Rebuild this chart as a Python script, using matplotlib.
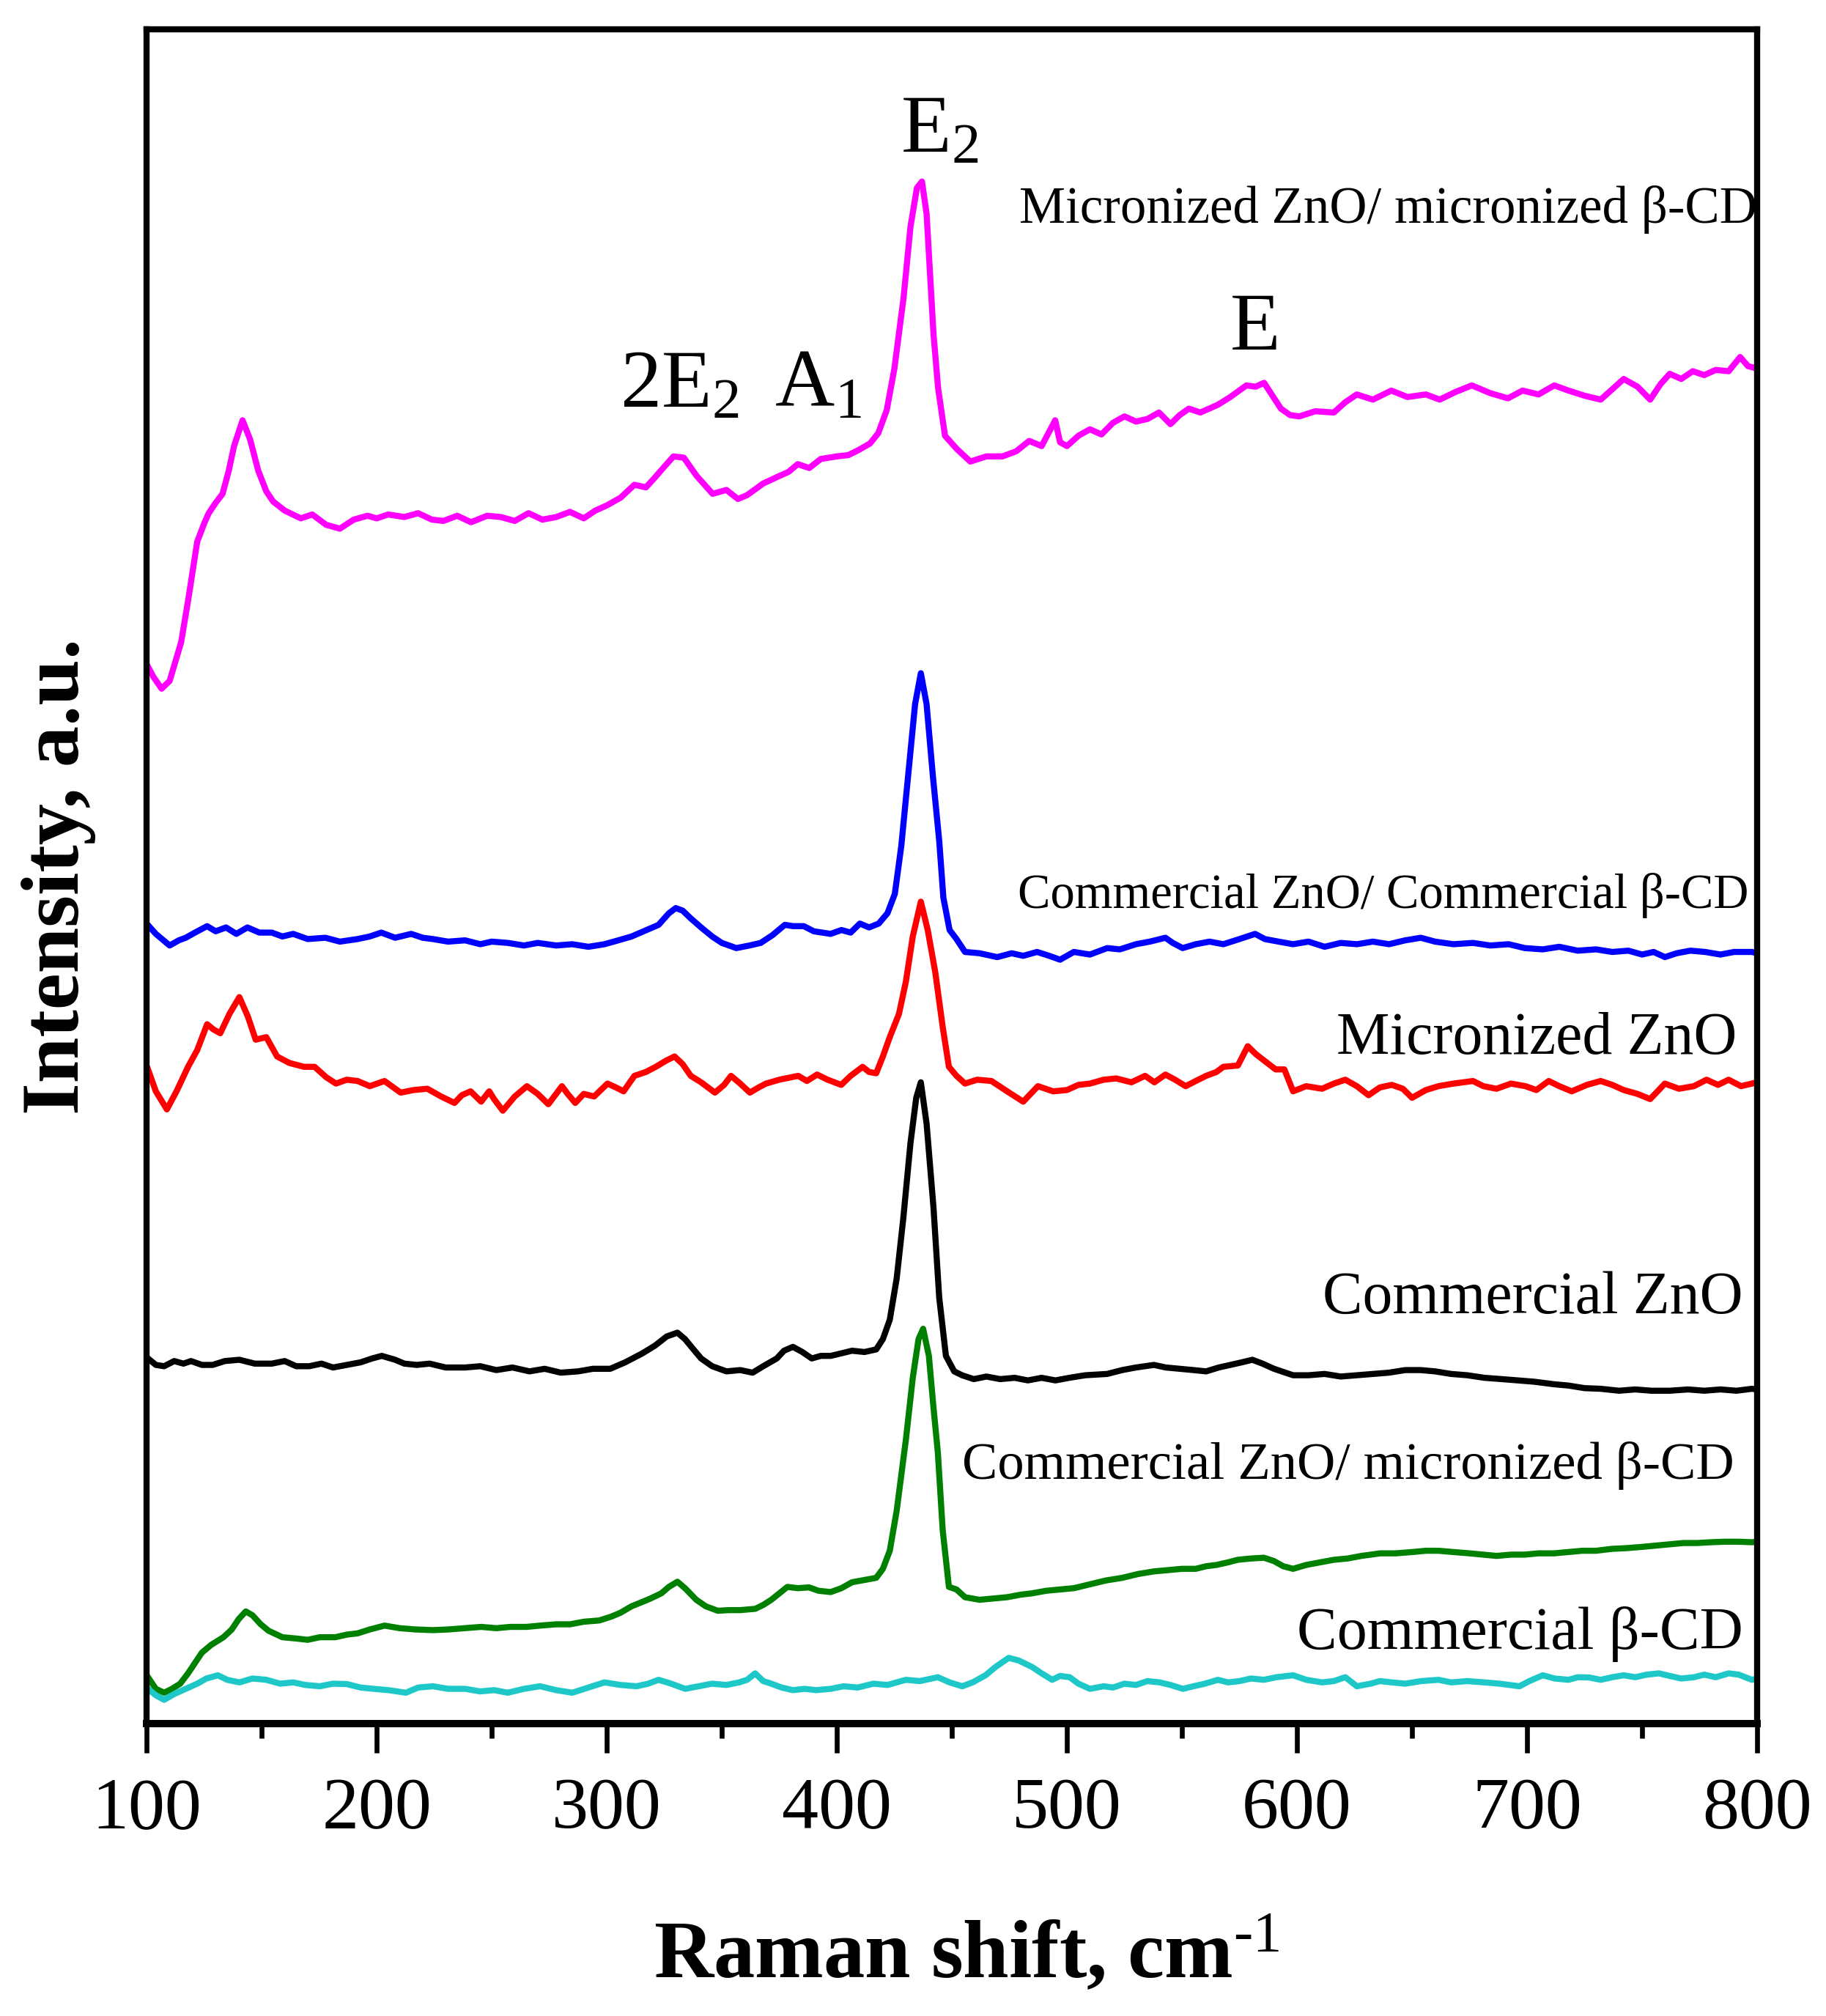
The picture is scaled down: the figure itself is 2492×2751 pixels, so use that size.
import matplotlib
matplotlib.use("Agg")
import matplotlib.pyplot as plt
from matplotlib.ticker import MultipleLocator

plt.rcParams['font.family'] = ['Liberation Serif', 'DejaVu Serif']
plt.rcParams['mathtext.fontset'] = 'custom'
plt.rcParams['mathtext.rm'] = 'Liberation Serif'
plt.rcParams['mathtext.it'] = 'Liberation Serif:italic'
plt.rcParams['mathtext.bf'] = 'Liberation Serif:bold'

# Micronized ZnO / micronized beta-CD (magenta)
x_mz_mcd = [100, 103, 106.5, 110, 115, 118, 122, 125, 127, 130, 133, 135.7, 138, 141.7, 145, 148.5, 152, 155,
            160, 167, 172, 178, 184, 190, 196, 200, 205, 212, 218, 224, 229, 235, 241, 248, 254, 260, 266, 272,
            278, 284, 290, 295, 300, 306, 312, 317, 320.6, 325, 329, 333.5, 339, 346, 352, 357, 361, 368, 374,
            379, 383, 388, 393, 400, 405, 409.5, 414.4, 418, 421.7, 425, 429, 432, 434.8, 437, 439, 442, 444,
            447, 452, 458, 465, 472, 478, 483.6, 489, 494.9, 497, 500, 505, 510, 515, 520, 525, 530, 535, 540,
            545, 549, 553, 558, 565.6, 571, 578, 582, 585.7, 589, 593, 597, 601, 608, 616, 621, 626, 633, 641,
            648, 656, 662, 669, 676, 684, 691.7, 698, 705, 711.8, 718, 725, 732, 737, 742, 748, 753.5, 758,
            762, 767, 772, 777, 782, 787.6, 792.6, 796, 800]
y_mz_mcd = [821, 811, 802, 808, 838, 870, 916, 930, 938, 946, 953, 971, 990, 1010, 995, 971, 955, 947,
            940, 934, 937, 929, 926, 933, 936, 934, 937, 935, 938, 933, 932, 936, 931, 936, 935, 932, 938, 933,
            935, 939, 934, 940, 944, 950, 960, 958, 965, 974, 982, 981, 967, 953, 956, 949, 952, 961, 966,
            970, 976, 973, 980, 982, 983, 987, 992, 1000, 1018, 1050, 1105, 1160, 1190, 1195, 1170, 1077, 1035,
            998, 988, 978, 982, 982, 986, 994, 990, 1010, 993, 990, 998, 1003, 999, 1008, 1013, 1009, 1011, 1016,
            1007, 1014, 1019, 1016, 1022, 1028, 1037, 1036, 1039, 1030, 1019, 1014, 1013, 1017, 1016, 1024, 1030, 1026, 1033,
            1028, 1030, 1026, 1032, 1037, 1031, 1027, 1033, 1030, 1037, 1033, 1029, 1026, 1034, 1042, 1036, 1026, 1038,
            1046, 1042, 1048, 1045, 1049, 1048, 1059, 1052, 1050]

# Commercial ZnO / commercial beta-CD (blue)
x_cz_ccd = [100, 104, 110, 114, 117, 121, 126.3, 130, 134.5, 139, 143.8, 149, 154.4, 159, 163.7, 170, 177.7,
            184, 191.7, 197, 202, 208, 215, 220, 224.4, 231, 238.4, 245, 250, 257, 264, 270, 278, 285, 292,
            299, 305, 310.8, 316, 322.5, 327, 330, 333, 336.5, 341, 345.8, 350, 356.3, 362, 366.9, 372, 377.4,
            381, 385.6, 390, 397.3, 402, 406, 410, 414, 418.2, 422, 425.2, 428, 431, 434, 436.5, 439, 441.7,
            444.5, 446.3, 449, 452, 455.7, 462, 469.7, 476, 481, 487, 492.3, 497, 503, 510, 517.5, 523, 530,
            536, 542.8, 546, 550.3, 556, 562, 568, 575, 581.8, 586, 592, 598.3, 605, 612, 619, 626, 633, 640,
            647, 653.8, 660, 668, 676.5, 684, 692, 699, 706.8, 714, 722, 730, 737, 744, 750, 755, 759.9, 765,
            771, 777.4, 784, 790, 797.7, 800]
y_cz_ccd = [620, 612, 603, 607, 609, 613, 618, 614, 617, 612, 617, 613, 613, 610, 612, 608, 609,
            606, 608, 610, 613, 609, 612, 609, 608, 606, 607, 604, 606, 605, 603, 605, 603, 604, 602,
            604, 607, 610, 614, 619, 628, 632, 630, 624, 617, 610, 605, 601, 603, 605, 611, 619,
            618, 618, 614, 612, 615, 613, 620, 617, 620, 628, 643, 680, 735, 790, 814, 790, 735,
            684, 640, 615, 608, 598, 597, 594, 597, 595, 598, 595, 592, 598, 596, 601, 600, 604,
            606, 609, 605, 601, 604, 606, 604, 608, 612, 608, 606, 604, 606, 602, 605, 604, 606, 604,
            607, 609, 606, 604, 605, 603, 604, 601, 600, 602, 599, 600, 598, 599, 596, 598, 594, 597,
            599, 598, 596, 598, 598, 597]

# Micronized ZnO (red)
x_mz = [100.6, 104, 108.8, 113, 118, 122, 126.3, 129, 132, 136, 140.3, 144, 147.4, 152, 156.7, 162, 168.4,
        173, 178, 182.3, 187, 191.7, 197, 203.4, 210.4, 216, 222, 228, 233.8, 237, 240.8, 245.4, 248.9, 251,
        254.8, 260, 265.3, 270, 274.6, 280.5, 283, 286.3, 290, 294.5, 300.3, 304, 307.3, 312, 317, 321.3,
        326, 329.5, 333, 336.5, 341, 347, 351, 354, 358, 362.2, 366, 369.2, 375, 383.2, 387, 391.4, 396,
        401.9, 406, 411.2, 414, 417.1, 420, 423, 427, 430, 433, 436.5, 439.5, 442.8, 446, 448.7, 452, 455.7,
        461, 467.2, 474, 481, 487.4, 494, 500, 505, 510, 516, 521.4, 528, 534, 538, 542.8, 547, 551.6, 556,
        560.5, 565, 568, 574.3, 578.6, 582, 585.6, 590.7, 594.5, 598.3, 604, 610.9, 616, 621, 626, 631.1,
        636, 641.2, 646, 650, 656, 661.5, 668, 676.5, 681, 686.7, 693, 699.3, 704, 709.4, 714, 719.4, 726,
        732, 737, 742, 748, 753.5, 759.9, 766, 772.5, 778, 783, 787.6, 793, 797.7, 800]
y_mz = [507, 490, 476, 490, 509, 522, 542, 538, 535, 550, 563, 548, 530, 532, 517, 512, 509,
        509, 501, 496, 499, 498, 494, 498, 489, 491, 492, 486, 481, 487, 490, 482, 490, 484,
        475, 486, 494, 488, 480, 494, 488, 481, 488, 486, 496, 493, 490, 502, 505, 509,
        514, 517, 511, 502, 497, 489, 495, 502, 496, 489, 493, 496, 499, 502, 498, 503, 499,
        495, 502, 509, 505, 504, 517, 532, 550, 575, 610, 637, 615, 582, 540, 509, 502, 496,
        499, 498, 490, 482, 494, 490, 491, 495, 496, 499, 500, 497, 502, 497, 503, 499, 494, 498,
        502, 505, 509, 510, 525, 519, 514, 507, 507, 490, 494, 492, 496, 499, 494, 487,
        493, 495, 492, 485, 491, 494, 496, 498, 494, 492, 496, 494, 491, 498, 494, 490, 495,
        498, 495, 491, 488, 484, 496, 492, 494, 499, 495, 499, 494, 496, 497]

# Commercial ZnO (black)
x_cz = [100.6, 104, 107.6, 112, 116, 119.3, 124, 128.7, 134, 140.3, 147, 154.4, 160, 165, 170.7, 176, 181,
        187, 193, 198, 202.2, 208, 212, 217.4, 223, 230, 238.4, 245, 252, 259, 266.4, 273, 280, 287.5, 294,
        301.5, 308, 315.5, 321, 326, 330.7, 334, 337.7, 341, 345.8, 352, 358, 363.4, 368, 373.9, 377, 380.9,
        385, 389.1, 393, 397.3, 402, 406.6, 412, 417.1, 420, 423, 426, 428.9, 432, 434.5, 436.5, 439, 442,
        444.5, 447.4, 451, 454.4, 459.5, 465, 471, 477.3, 483, 489, 495, 501, 508, 517.5, 524, 530, 537.8,
        543, 549, 555, 560.5, 566, 571, 576, 580.6, 585, 590, 598.3, 605, 612, 619, 626, 633, 640, 647,
        653.8, 660, 667, 674, 681.5, 689, 696, 703, 711.8, 718, 725, 732, 740, 747, 754, 762, 770, 777,
        784, 791, 797.7, 800]
y_cz = [283, 278, 277, 281, 279, 281, 278, 278, 281, 282, 279, 279, 281, 277, 277, 279, 276,
        278, 280, 283, 285, 282, 279, 278, 279, 276, 276, 277, 274, 276, 273, 275, 272, 273, 275,
        275, 280, 287, 293, 300, 303, 298, 290, 283, 277, 273, 274, 272, 277, 283, 289, 292,
        288, 283, 285, 285, 287, 289, 288, 290, 298, 313, 345, 392, 450, 485, 497, 465, 400,
        330, 285, 273, 270, 267, 269, 267, 268, 266, 268, 266, 268, 270, 271, 274, 276, 278,
        276, 275, 274, 273, 276, 278, 280, 282, 279, 275, 270, 270, 271, 269, 270, 271, 272, 274,
        274, 273, 271, 270, 268, 267, 266, 265, 263, 262, 260, 259.5, 258, 259, 258, 258, 259, 258,
        259, 258, 259.5, 259]

# Commercial ZnO / micronized beta-CD (green)
x_cz_mcd = [100.6, 104, 107.6, 111, 114.6, 118, 121, 124, 128, 133.4, 137, 140, 143.1, 146, 149.6, 153, 159,
            165, 170, 175.3, 182, 187, 191.7, 197, 203.4, 210, 217, 224.4, 231, 238, 245.4, 252, 258, 265, 271,
            278, 284, 290, 296.8, 302, 306, 310.8, 315, 319, 323.7, 327, 330.7, 334, 338.9, 343, 348.2, 353,
            358, 364.5, 368, 371.5, 375, 378.5, 383, 387.9, 392, 397.3, 402, 406.6, 411, 417.1, 420, 423, 426,
            430, 433, 435.5, 437.5, 440, 442, 443.9, 446, 448.7, 452, 455.7, 462, 468, 474, 480, 484.8, 491,
            497, 503, 510, 517, 524, 531, 537.8, 544, 550, 556, 560.5, 565, 570, 574.3, 580, 585.6, 590, 594,
            598.3, 604, 610, 616, 622, 628, 636.2, 643, 650, 656, 661.5, 668, 675, 681, 686.7, 693, 699, 705,
            711.8, 718, 724, 730, 737, 743, 750, 756, 762, 768, 774, 779.8, 786, 792, 797.7, 800]
y_cz_mcd = [36, 27, 24, 27, 31, 39, 47, 55, 61, 67, 73, 81, 87, 84, 77, 72, 67,
            66, 65, 67, 67, 69, 70, 73, 76, 74, 73, 72.5, 73, 74, 75, 74, 75, 75, 76,
            77, 77, 79, 80, 83, 86, 91, 94, 97, 101, 106, 110, 105, 96, 91, 87.5, 88,
            88, 89, 92, 96, 101, 106, 105, 105.6, 103, 102, 105, 109.6, 111, 113, 120, 134, 165,
            220, 268, 298, 306, 285, 245, 210, 150, 106, 104, 98, 96, 97, 98, 100, 101, 103,
            104, 105, 108, 111, 113, 116, 118, 119, 120, 120, 122, 123, 125, 127, 128, 128.6, 126, 122,
            120, 123, 125, 127, 128, 130, 132, 132, 133, 134, 134, 133, 132, 131, 130, 131, 131, 132,
            132, 133, 134, 134, 135.5, 136, 137, 138, 139, 140, 140, 140.6, 141, 141, 140.6, 141]

# Commercial beta-CD (cyan)
x_ccd = [100.6, 104, 107.6, 112, 117, 122, 126, 131, 135, 140.3, 146, 152, 158, 163.7, 169, 175.3, 181, 187,
         193, 198.7, 205, 212.7, 218, 224.4, 231, 238.4, 245, 251, 257, 264, 271, 278, 285, 292, 299, 306,
         313, 318, 322.5, 328, 334.1, 340, 345.8, 352, 357.5, 361, 364.5, 368, 371.5, 376, 380.9, 386, 391,
         397.3, 403, 409, 415.9, 422, 430, 436, 443.9, 449, 454.5, 459, 464.6, 469, 474.7, 479, 484.8, 489,
         493.6, 497, 501.2, 505, 510, 516, 520, 525, 530, 535, 540.3, 545, 550.4, 555, 560, 565.6, 570, 575,
         580, 585.6, 591, 598.3, 604, 610.9, 616, 621, 626, 632, 636, 641.2, 647, 654, 661.5, 667, 674,
         681.5, 688, 696.7, 701, 706.8, 712, 718, 722, 727, 732, 737, 742, 747, 752, 757.3, 762, 767, 772.5,
         777, 782, 787.6, 792, 797.7, 800]
y_ccd = [27, 22, 18.5, 23, 27, 31, 35, 37.5, 34, 32, 35, 34, 31, 32, 30, 29, 31, 30.7,
         28, 27, 26, 24, 28, 29, 27, 27, 25, 26, 24, 27, 29, 26, 24, 28, 32, 30,
         29, 31, 34, 31, 27, 29, 31, 30, 32, 34, 39, 33, 31, 28, 26, 27, 26,
         27, 29, 28, 31, 30, 34, 33, 36, 32, 29, 32, 37.5, 44, 51, 49, 44, 39,
         34, 37, 36, 31, 27, 29, 28, 31, 30, 33, 32, 30, 27, 29, 31, 34, 32, 33,
         35, 34, 36, 37.5, 34, 32, 33, 36, 29, 31, 33, 32, 31, 33, 34, 32, 33,
         32, 31, 29, 33, 37.5, 35, 34, 36, 35.8, 34, 36, 37.5, 36, 38, 39, 37, 35, 36,
         38, 36, 39, 38, 34, 35]

x_ticks = [100, 200, 300, 400, 500, 600, 700, 800]

peak_labels = ['2E$_\\mathregular{2}$', 'A$_\\mathregular{1}$', 'E$_\\mathregular{2}$', 'E']
peak_x = [305.8, 372.8, 427.6, 571]
peak_y = [1020, 1020, 1218, 1065]

series_labels = ['Micronized ZnO/ micronized \u03b2-CD', 'Commercial ZnO/ Commercial \u03b2-CD',
                 'Micronized ZnO', 'Commercial ZnO', 'Commercial ZnO/ micronized \u03b2-CD',
                 'Commercial \u03b2-CD']
label_x = [800, 796.4, 791.3, 793.9, 790, 793.9]
label_y = [1163, 632, 519, 318, 190, 58]
label_size = [17, 16, 19.6, 19.6, 17.4, 19.7]

fig = plt.figure(figsize=(2492 / 300, 2751 / 300), dpi=300)
ax = fig.add_axes([0.0803, 0.145, 0.8820, 0.8405])

lw = 2.0
ax.plot(x_mz_mcd, y_mz_mcd, color='#FF00FF', lw=lw)
ax.plot(x_cz_ccd, y_cz_ccd, color='#0000FF', lw=lw)
ax.plot(x_mz, y_mz, color='#FF0000', lw=lw)
ax.plot(x_cz, y_cz, color='#000000', lw=lw)
ax.plot(x_cz_mcd, y_cz_mcd, color='#008000', lw=lw)
ax.plot(x_ccd, y_ccd, color='#1EC8C8', lw=lw)

for t, px, py in zip(peak_labels, peak_x, peak_y):
    ax.text(px, py, t, fontsize=27, ha='left', va='baseline')

for t, px, py, s in zip(series_labels, label_x, label_y, label_size):
    ax.text(px, py, t, fontsize=s, ha='right', va='baseline')

ax.set_xlim(100, 800)
ax.set_ylim(0, 1313)
ax.set_xticks(x_ticks)
ax.xaxis.set_minor_locator(MultipleLocator(50))
ax.set_yticks([])
ax.tick_params(axis='x', which='major', direction='out', length=9.6, width=1.6, pad=8, labelsize=24)
ax.tick_params(axis='x', which='minor', direction='out', length=4.8, width=1.6)
for side in ['left', 'right', 'top']:
    ax.spines[side].set_linewidth(2.0)
ax.spines['bottom'].set_linewidth(2.4)

ax.set_xlabel('Raman shift, cm$^{\\text{-1}}$', fontsize=27, fontweight='bold', va='baseline')
ax.xaxis.set_label_coords(0.509, -0.150)
ax.set_ylabel('Intensity, a.u.', fontsize=27, fontweight='bold', va='baseline')
ax.yaxis.set_label_coords(-0.0423, 0.5)

fig.savefig('out.png', dpi=300)
